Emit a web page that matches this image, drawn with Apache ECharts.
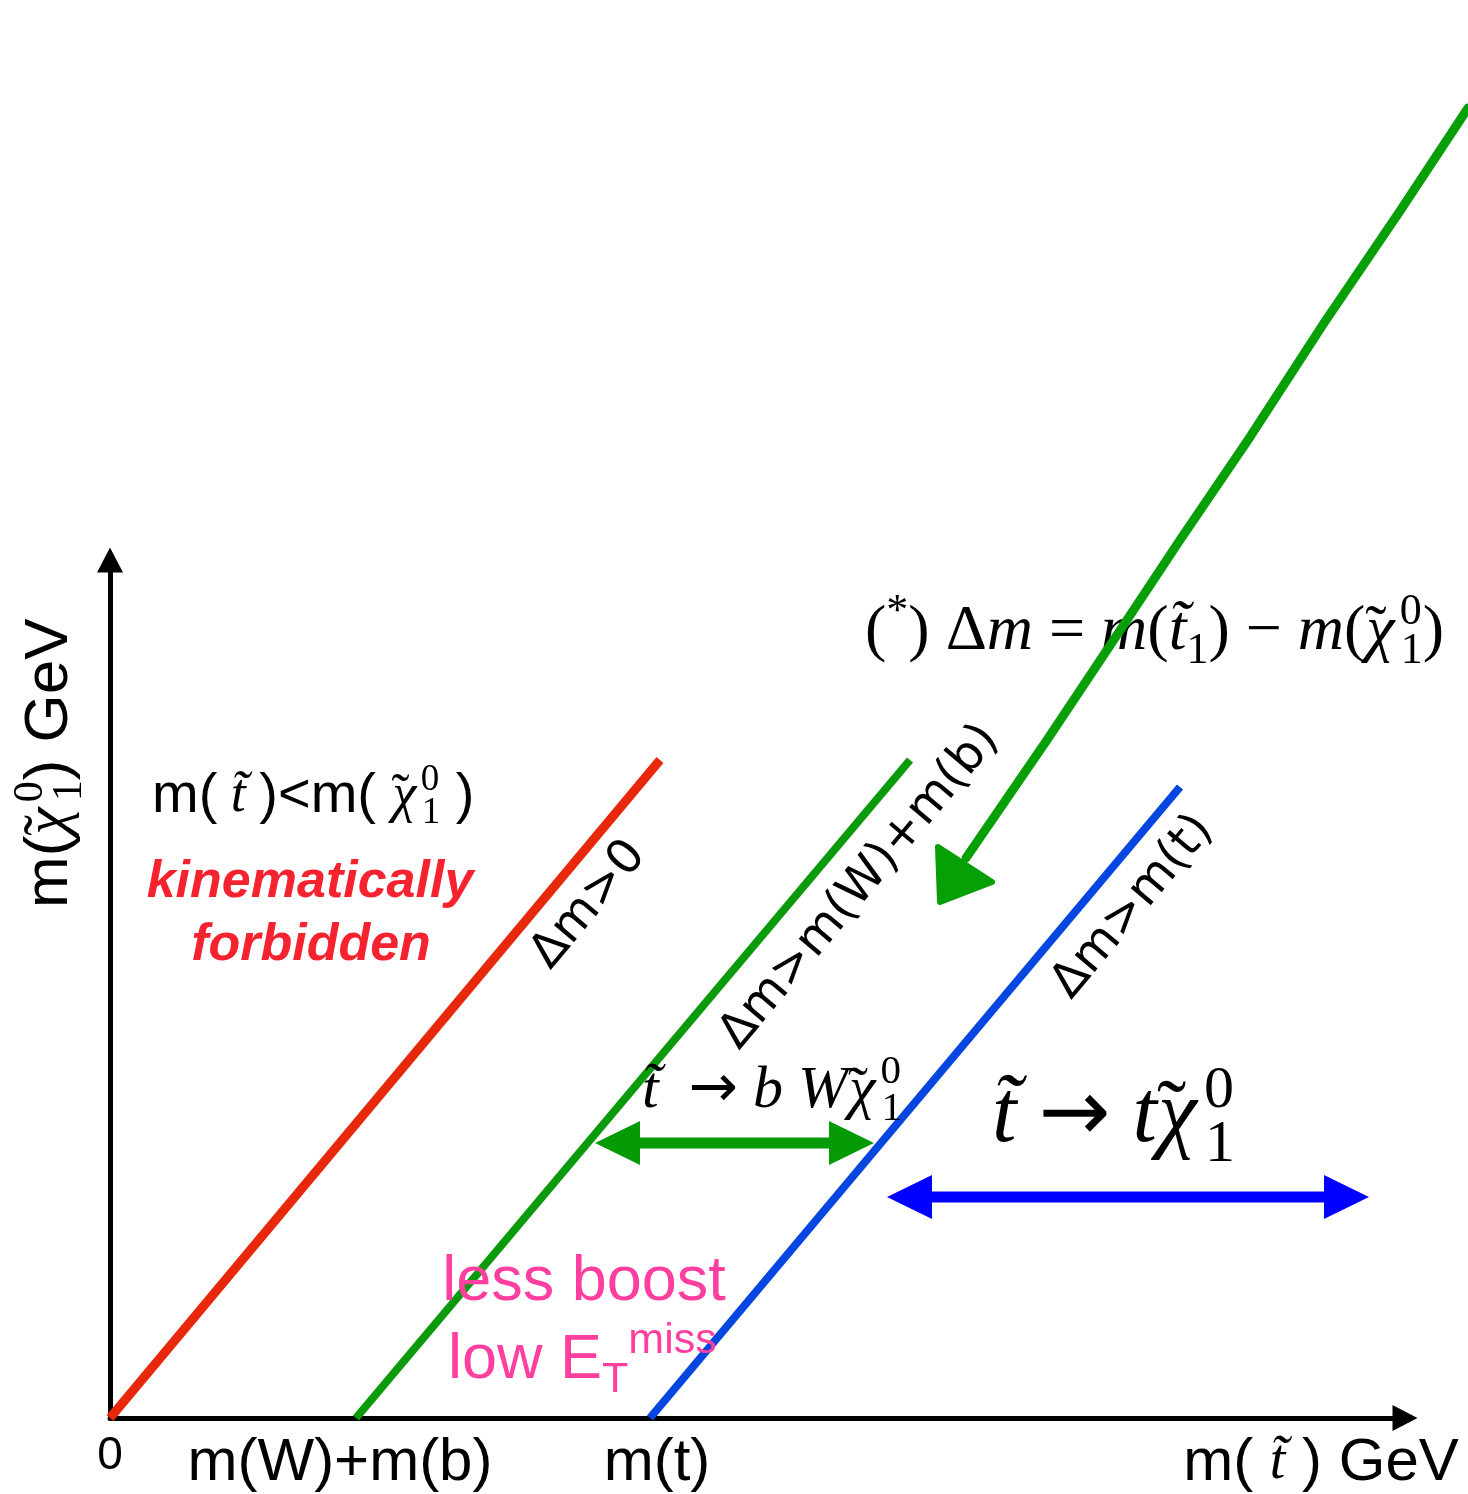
<!DOCTYPE html>
<html>
<head>
<meta charset="utf-8">
<script src="https://cdn.jsdelivr.net/npm/echarts@6/dist/echarts.min.js"></script>
<style>
html,body{margin:0;padding:0;background:#fff;}
#chart{width:1468px;height:1494px;}
</style>
</head>
<body>
<div id="chart"></div>
<script>
// ---- data (schematic units measured from the origin of the diagram) ----
const xTickValues = [0, 230, 547, 1211];
const xTickLabels = ['0', 'm(W)+m(b)', 'm(t)', 'm( t\u0303 ) GeV'];
const redLine = [[0, 0], [550, 658]];        // Δm > 0
const greenLine = [[246, 0], [800, 658]];    // Δm > m(W)+m(b)
const blueLine = [[540, 0], [1070, 631]];    // Δm > m(t)
const pointerPath = [[1358, 1310], [1290, 1207], [1214, 1095], [1138, 978], [1070, 878], [1007, 783], [937, 678], [856, 560]];
const pointerHead = [[828, 571], [882, 536], [830, 516]];
const greenSpan = [485, 764, 275];   // from, to, level
const blueSpan = [777, 1259, 221];
const annotationAnchors = [
  [-60, 510],    // y-axis title (start)
  [42, 621],     // m(t)<m(chi)
  [200, 535],    // kinematically
  [201, 472],    // forbidden
  [479, 513],    // Δm>0
  [750, 531],    // Δm>m(W)+m(b)
  [1023, 511],   // Δm>m(t)
  [755, 786],    // (*) formula
  [532, 327],    // t -> b W chi
  [882, 300],    // t -> t chi
  [474, 135],    // less boost
  [338, 57]      // low ET miss
];
const annotationTexts = [
  '{s|m(}{tl|\u02DC}{i|\u03C7\u200A}{p|0}{b|1}{s|) GeV}',
  '{s|m(}{i| t\u0303 }{s|)<m( }{tl|\u02DC}{i|\u03C7\u200A}{p|0}{b|1}{s| )}',
  'kinematically',
  'forbidden',
  '\u0394m>0',
  '\u0394m>m(W)+m(b)',
  '\u0394m>m(t)',
  '{n|(}{q|*}{n|) \u0394}{i|m}{n| = }{i|m}{n|(}{i|t\u0303}{b|1}{n|) \u2212 }{i|m}{n|(}{tl|\u02DC}{i|\u03C7\u200A}{p|0}{b|1}{n|)}',
  '{i|t\u0303}{n|  }{ar|\u2192}{n| }{i|b}{n| }{i|W}{tl|\u02DC}{i|\u03C7\u200A}{p|0}{b|1}',
  '{i|t\u0303}{n| }{ar|\u2192}{n| }{i|t}{tl|\u02DC}{i|\u03C7\u200A}{p|0}{b|1}',
  'less boost',
  '{s|low E}{b|T}{q|miss}'
];

// ---- styles ----
const SANS = "'Liberation Sans', Arial, Helvetica, sans-serif";
const SERIF = "'Liberation Serif', 'Times New Roman', serif";
const GEO = "'DejaVu Sans', sans-serif";

function mathRich(F, sansF, fam) {
  const L = Math.round(F * 1.3);
  const s = Math.round(F * 0.68);
  const sub = fam || SERIF;
  return {
    s: { fontFamily: SANS, fontSize: sansF || F, lineHeight: L },
    n: { fontFamily: SERIF, fontSize: F, lineHeight: L },
    i: { fontFamily: SERIF, fontStyle: 'italic', fontSize: F, lineHeight: L },
    tl: { fontFamily: SERIF, fontSize: F, lineHeight: L, width: 1 },
    ar: { fontFamily: GEO, fontSize: Math.round(F * 0.98), lineHeight: L },
    p: { fontFamily: sub, fontSize: s, verticalAlign: 'top', width: 1 },
    q: { fontFamily: sub, fontSize: s, verticalAlign: 'top' },
    b: { fontFamily: sub, fontSize: s, verticalAlign: 'bottom' }
  };
}

const annotationStyles = [
  { rich: mathRich(62, 62), align: 'left', rotate: 90 },
  { rich: mathRich(54, 56), align: 'left' },
  { fontFamily: SANS, fontSize: 52, fontWeight: 'bold', fontStyle: 'italic', color: '#f4232f' },
  { fontFamily: SANS, fontSize: 52, fontWeight: 'bold', fontStyle: 'italic', color: '#f4232f' },
  { fontFamily: GEO, fontSize: 48, rotate: 50 },
  { fontFamily: GEO, fontSize: 48, rotate: 50 },
  { fontFamily: GEO, fontSize: 48, rotate: 50 },
  { rich: mathRich(64), align: 'left' },
  { rich: mathRich(60), align: 'left' },
  { rich: mathRich(88), align: 'left' },
  { fontFamily: SANS, fontSize: 63, color: '#ff3fa0' },
  { rich: mathRich(63, 63, SANS), align: 'left', color: '#ff3fa0' }
];

function renderAnnotation(params, api) {
  const k = params.dataIndex;
  const st = annotationStyles[k];
  const pt = api.coord([api.value(0), api.value(1)]);
  const style = {
    text: annotationTexts[k],
    fill: st.color || '#000',
    align: st.align || 'center',
    verticalAlign: 'middle'
  };
  if (st.rich) {
    style.rich = st.rich;
    style.fontFamily = SANS;
    style.fontSize = 56;
  } else {
    style.fontFamily = st.fontFamily;
    style.fontSize = st.fontSize;
    if (st.fontWeight) style.fontWeight = st.fontWeight;
    if (st.fontStyle) style.fontStyle = st.fontStyle;
  }
  return {
    type: 'text',
    x: pt[0],
    y: pt[1],
    rotation: (st.rotate || 0) * Math.PI / 180,
    style: style
  };
}

function renderSpan(params, api) {
  const a = api.coord([api.value(0), api.value(2)]);
  const b = api.coord([api.value(1), api.value(2)]);
  const headL = 45, headH = 22, shaft = 5.5;
  const y = a[1];
  const pts = [
    [a[0], y], [a[0] + headL, y - headH], [a[0] + headL, y - shaft],
    [b[0] - headL, y - shaft], [b[0] - headL, y - headH], [b[0], y],
    [b[0] - headL, y + headH], [b[0] - headL, y + shaft],
    [a[0] + headL, y + shaft], [a[0] + headL, y + headH]
  ];
  return { type: 'polygon', shape: { points: pts }, style: { fill: api.visual('color') } };
}

function renderPointer(params, api) {
  const pts = [];
  for (let j = 0; j < pointerPath.length; j++) {
    pts.push(api.coord([api.value(2 * j), api.value(2 * j + 1)]));
  }
  return {
    type: 'polyline',
    shape: { points: pts },
    style: { stroke: api.visual('color'), lineWidth: 9, lineJoin: 'round', lineCap: 'round', fill: null }
  };
}

function renderHead(params, api) {
  const pts = [0, 1, 2].map(function (j) {
    return api.coord([api.value(2 * j), api.value(2 * j + 1)]);
  });
  return {
    type: 'polygon',
    shape: { points: pts },
    style: { fill: api.visual('color'), stroke: api.visual('color'), lineWidth: 6, lineJoin: 'round' }
  };
}

const chart = echarts.init(document.getElementById('chart'), null, { renderer: 'canvas' });
chart.setOption({
  animation: false,
  backgroundColor: '#ffffff',
  grid: { left: 110, right: 63, top: 560, bottom: 76, containLabel: false, outerBoundsMode: 'none' },
  xAxis: {
    type: 'value',
    min: 0,
    max: 1295,
    axisLine: { show: true, onZero: false, symbol: ['none', 'triangle'], symbolSize: [26, 25],
      lineStyle: { color: '#000', width: 5 } },
    axisTick: { show: false },
    splitLine: { show: false },
    axisLabel: {
      show: true,
      customValues: xTickValues,
      margin: 10,
      formatter: function (v) {
        const k = xTickValues.indexOf(v);
        if (k === 0) return '{z|' + xTickLabels[0] + '}';
        if (k === 3) return '{s|m( }{i|t\u0303}{s| ) GeV}';
        return '{s|' + xTickLabels[k] + '}';
      },
      rich: {
        s: { fontFamily: SANS, fontSize: 60, lineHeight: 70, color: '#000' },
        i: { fontFamily: SERIF, fontStyle: 'italic', fontSize: 56, lineHeight: 70, color: '#000' },
        z: { fontFamily: SANS, fontSize: 46, lineHeight: 56, color: '#000' }
      }
    }
  },
  yAxis: {
    type: 'value',
    min: 0,
    max: 858,
    axisLine: { show: true, onZero: false, symbol: ['none', 'triangle'], symbolSize: [26, 25],
      lineStyle: { color: '#000', width: 5 } },
    axisTick: { show: false },
    splitLine: { show: false },
    axisLabel: { show: false }
  },
  series: [
    { type: 'line', data: redLine, symbol: 'none', z: 3, lineStyle: { color: '#e8280b', width: 9, cap: 'butt' } },
    { type: 'line', data: greenLine, symbol: 'none', z: 3, lineStyle: { color: '#0b9a0b', width: 8, cap: 'butt' } },
    { type: 'line', data: blueLine, symbol: 'none', z: 3, lineStyle: { color: '#0646e0', width: 8, cap: 'butt' } },
    { type: 'custom', renderItem: renderSpan, data: [greenSpan], itemStyle: { color: '#069a06' }, z: 4, silent: true, clip: false },
    { type: 'custom', renderItem: renderSpan, data: [blueSpan], itemStyle: { color: '#0000ff' }, z: 4, silent: true, clip: false },
    { type: 'custom', renderItem: renderAnnotation, data: annotationAnchors, encode: { x: 0, y: 1 }, z: 5, silent: true, clip: false },
    { type: 'custom', renderItem: renderPointer, data: [pointerPath.flat()], itemStyle: { color: '#06a006' }, z: 6, silent: true, clip: false },
    { type: 'custom', renderItem: renderHead, data: [pointerHead.flat()], itemStyle: { color: '#06a006' }, z: 6, silent: true, clip: false }
  ]
});
</script>
</body>
</html>
